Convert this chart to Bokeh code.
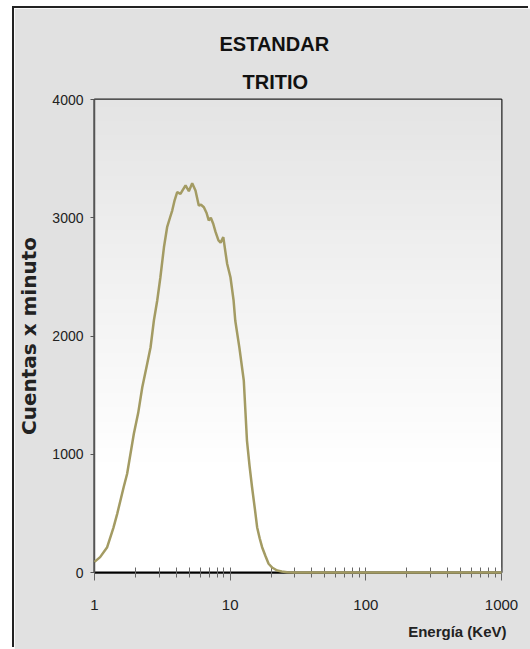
import numpy as np
from bokeh.plotting import figure
from bokeh.models import Title, FixedTicker, Range1d, PrintfTickFormatter
from bokeh.embed import file_html
from bokeh.resources import INLINE

# ---------------- data ----------------
energy_kev = [1.0, 1.1, 1.24, 1.38, 1.47, 1.64, 1.74, 1.95, 2.1, 2.25, 2.42, 2.59,
              2.74, 2.9, 3.06, 3.25, 3.43, 3.6, 3.74, 3.9, 4.07, 4.3, 4.5, 4.69,
              4.96, 5.25, 5.55, 5.87, 6.1, 6.4, 6.7, 6.95, 7.2, 7.5, 7.8, 8.2,
              8.5, 8.9, 9.2, 9.5, 10.05, 10.6, 10.9, 11.7, 12.6, 13.3, 13.9, 14.5,
              15.2, 15.8, 16.5, 17.2, 18.2, 19.2, 20.5, 22.2, 24.0, 26.3, 30.0,
              40.0, 60.0, 100.0, 200.0, 400.0, 700.0, 1000.0]
counts_per_min = [90, 130, 214, 380, 496, 721, 835, 1173, 1350, 1567, 1740, 1905,
                  2131, 2300, 2497, 2750, 2920, 3000, 3061, 3150, 3216, 3202, 3240, 3273,
                  3225, 3292, 3230, 3104, 3110, 3089, 3040, 2977, 3000, 2949, 2880, 2808,
                  2790, 2836, 2720, 2611, 2497, 2300, 2131, 1900, 1624, 1116, 900, 721,
                  540, 383, 290, 214, 140, 74, 40, 17, 8, 3, 0,
                  0, 0, 0, 0, 0, 0, 0]

y_ticks = [0, 1000, 2000, 3000, 4000]
x_ticks = [1, 10, 100, 1000]
x_minor = [m * 10 ** k for k in range(3) for m in range(2, 10)]
title_lines = ["ESTANDAR", "TRITIO"]
x_label = "Energía (KeV)"
y_label = "Cuentas x minuto"

FONT = "'Liberation Sans Narrow', 'Liberation Sans', sans-serif"

p = figure(width=516, height=641, x_axis_type="log",
           x_range=Range1d(1, 1000), y_range=Range1d(0, 4000),
           output_backend="svg", toolbar_location=None, title=None,
           min_border_left=80, min_border_right=29,
           min_border_top=91, min_border_bottom=77)
p.margin = (8, 0, 0, 14)
p.styles = {"box-shadow": "-2px -2px 0 0 #222"}

p.border_fill_color = "#e1e1e1"
p.background_fill_color = "white"
p.outline_line_color = "#222222"
p.outline_line_width = 2
p.xgrid.visible = False
p.ygrid.visible = False

# vertical gradient in the plotting area
n = 200
grad = np.zeros((n, 2), dtype=np.uint32)
view = grad.view(dtype=np.uint8).reshape((n, 2, 4))
for i in range(n):
    t = i / (n - 1)
    v = 255 if t < 0.22 else int(round(255 - (255 - 228) * (t - 0.22) / 0.78))
    view[i, :, 0] = v
    view[i, :, 1] = v
    view[i, :, 2] = v
    view[i, :, 3] = 255
p.image_rgba(image=[grad], x=1, y=0, dw=999, dh=4000)

p.line(energy_kev, counts_per_min, line_color="#a39b63", line_width=2.5, level="overlay")

# axes
xa = p.xaxis[0]
xa.ticker = FixedTicker(ticks=x_ticks, minor_ticks=x_minor)
xa.formatter = PrintfTickFormatter(format="%d")
xa.axis_line_color = "black"
xa.axis_line_width = 2
xa.major_tick_line_color = "#666666"
xa.minor_tick_line_color = "#666666"
xa.major_tick_in = 5
xa.major_tick_out = 8
xa.minor_tick_in = 5
xa.minor_tick_out = 5
xa.major_label_standoff = 19
xa.major_label_text_font = FONT
xa.major_label_text_font_size = "15px"
xa.major_label_text_color = "#222222"

ya = p.yaxis[0]
ya.ticker = FixedTicker(ticks=y_ticks, minor_ticks=[])
ya.axis_line_color = "#555555"
ya.axis_line_width = 1.5
ya.major_tick_line_color = "#555555"
ya.major_tick_in = 0
ya.major_tick_out = 4
ya.major_label_standoff = 7
ya.major_label_text_font = FONT
ya.major_label_text_font_size = "14px"
ya.major_label_text_color = "#222222"
ya.axis_label = y_label
ya.axis_label_text_font = "DejaVu Sans"
ya.axis_label_text_font_style = "bold"
ya.axis_label_text_font_size = "20px"
ya.axis_label_text_color = "#222222"
ya.axis_label_standoff = 8

# titles (first added is closest to the frame); left aligned with offsets
# so that they are centred on the whole chart box rather than on the frame
p.add_layout(Title(text=title_lines[1], align="left", offset=148, standoff=14,
                   text_font=FONT, text_font_style="bold", text_font_size="20px",
                   text_color="#111111"), "above")
p.add_layout(Title(text=title_lines[0], align="left", offset=125, standoff=14,
                   text_font=FONT, text_font_style="bold", text_font_size="20px",
                   text_color="#111111"), "above")
# x axis label, right aligned under the axis
p.add_layout(Title(text=x_label, align="right", offset=-5, standoff=16,
                   text_font=FONT, text_font_style="bold", text_font_size="15px",
                   text_color="#222222"), "below")

open("out.html", "w").write(file_html(p, INLINE))
